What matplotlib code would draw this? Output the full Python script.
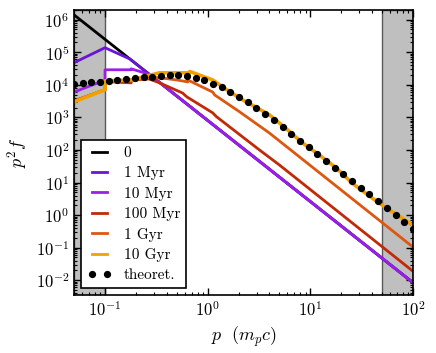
import numpy as np
import matplotlib
matplotlib.use('Agg')
import matplotlib.pyplot as plt
from matplotlib.ticker import LogLocator, NullFormatter, FixedLocator

plt.rcParams['mathtext.fontset'] = 'cm'
plt.rcParams['font.family'] = ['cmr10', 'DejaVu Serif']
plt.rcParams['axes.formatter.use_mathtext'] = True

# power law (t = 0)
p_0 = [0.05, 100]
y_0 = [1.4e6, 8.5e-3]

p_1myr = [0.05, 0.1, 0.175, 100]
y_1myr = [4.8e4, 1.38e5, 6.2e4, 8.5e-3]

p_10myr = [0.05, 0.1, 0.1, 0.18, 0.18, 0.27, 100]
y_10myr = [6.0e3, 1.4e4, 2.9e4, 2.9e4, 3.1e4, 2.1e4, 8.5e-3]

p_100myr = [0.05, 0.1, 0.1, 0.18, 0.18, 0.27, 0.34, 0.57, 0.625, 1.12, 1.22, 3.2, 5.0, 100]
y_100myr = [3.2e3, 7.1e3, 1.26e4, 1.15e4, 1.41e4, 1.51e4, 1.15e4, 5.6e3, 4.3e3, 1.38e3, 1.05e3, 100, 34.7, 1.9e-2]

p_1gyr = [0.05, 0.1, 0.1, 0.18, 0.27, 0.34, 0.5, 0.64, 0.64, 1.12, 1.17, 2.05, 4.0, 100]
y_1gyr = [3.2e3, 7.1e3, 1.32e4, 1.32e4, 1.66e4, 1.66e4, 1.41e4, 1.23e4, 1.41e4, 6.0e3, 4.9e3, 1.48e3, 331, 0.105]

p_10gyr = [0.05, 0.1, 0.1, 0.18, 0.34, 0.67, 0.67, 1.12, 1.53, 2.19, 4.0, 5.85, 8.36, 12.2, 17.9, 25.6, 46.8, 100]
y_10gyr = [3.0e3, 7.1e3, 1.32e4, 1.41e4, 2.34e4, 2.34e4, 2.57e4, 1.41e4, 7.1e3, 3.47e3, 1.2e3, 447, 166, 70.8, 28.2, 9.55, 2.34, 0.49]

p_th = [0.05, 0.0608, 0.0738, 0.0897, 0.109, 0.132, 0.161, 0.196, 0.238, 0.289,
        0.351, 0.427, 0.519, 0.630, 0.766, 0.931, 1.13, 1.37, 1.67, 2.03,
        2.47, 2.99, 3.64, 4.43, 5.37, 6.53, 7.94, 9.64, 11.7, 14.2,
        17.3, 21.0, 25.5, 31.0, 37.7, 45.8, 55.7, 67.7, 82.2, 100]
y_th = [1.07e4, 1.15e4, 1.23e4, 1.23e4, 1.32e4, 1.41e4, 1.51e4, 1.66e4, 1.78e4, 1.78e4,
        1.91e4, 2.04e4, 2.04e4, 1.91e4, 1.66e4, 1.41e4, 1.07e4, 8.7e3, 6.0e3, 4.3e3,
        3.0e3, 1.95e3, 1.29e3, 832, 513, 309, 191, 123, 75.9, 45.7,
        28.2, 18.2, 11.2, 6.76, 4.47, 2.69, 1.66, 1.0, 0.603, 0.372]

fig = plt.figure(figsize=(4.36, 3.53), dpi=100)
ax = fig.add_axes([0.17, 0.164, 0.777, 0.808])

ax.axvspan(0.05, 0.1, facecolor='0.75', edgecolor='0.35', lw=1, zorder=0)
ax.axvspan(50, 100, facecolor='0.75', edgecolor='0.35', lw=1, zorder=0)

lw = 2.0
ax.plot(p_0, y_0, color='black', lw=lw, label='0')
ax.plot(p_1myr, y_1myr, color='#6a14d8', lw=lw, label='1 Myr')
ax.plot(p_10myr, y_10myr, color='#9a1ee6', lw=lw, label='10 Myr')
ax.plot(p_100myr, y_100myr, color='#c02a08', lw=lw, label='100 Myr')
ax.plot(p_1gyr, y_1gyr, color='#dc5810', lw=lw, label='1 Gyr')
ax.plot(p_10gyr, y_10gyr, color='#f2a000', lw=2.6, label='10 Gyr')
ax.plot(p_th, y_th, 'o', color='black', ms=4.2, label='theoret.')

ax.set_xscale('log')
ax.set_yscale('log')
ax.set_xlim(0.05, 100)
ax.set_ylim(3.5e-3, 2e6)

ax.xaxis.set_major_locator(FixedLocator([0.1, 1, 10, 100]))
ax.yaxis.set_major_locator(LogLocator(base=10, numticks=20))
ax.yaxis.set_minor_locator(LogLocator(base=10, subs=np.arange(2, 10), numticks=20))
ax.yaxis.set_minor_formatter(NullFormatter())
ax.xaxis.set_minor_formatter(NullFormatter())

ax.set_xlabel(r'$p\ \ (m_pc)$', fontsize=13)
ax.set_ylabel(r'$p^2 f$', fontsize=13)

ax.tick_params(which='both', direction='in', top=True, right=True, labelsize=12)
ax.tick_params(which='major', length=5, width=1)
ax.tick_params(which='minor', length=2.5, width=0.8)
for s in ax.spines.values():
    s.set_linewidth(1.2)

leg = ax.legend(loc='lower left', fontsize=11, numpoints=2, handlelength=1.6,
                labelspacing=0.42, borderaxespad=0.45, fancybox=False, framealpha=1)
leg.get_frame().set_edgecolor('black')
leg.get_frame().set_linewidth(1.2)
for h in leg.get_lines():
    h.set_linewidth(2.0)

fig.savefig('out.png', dpi=100)
